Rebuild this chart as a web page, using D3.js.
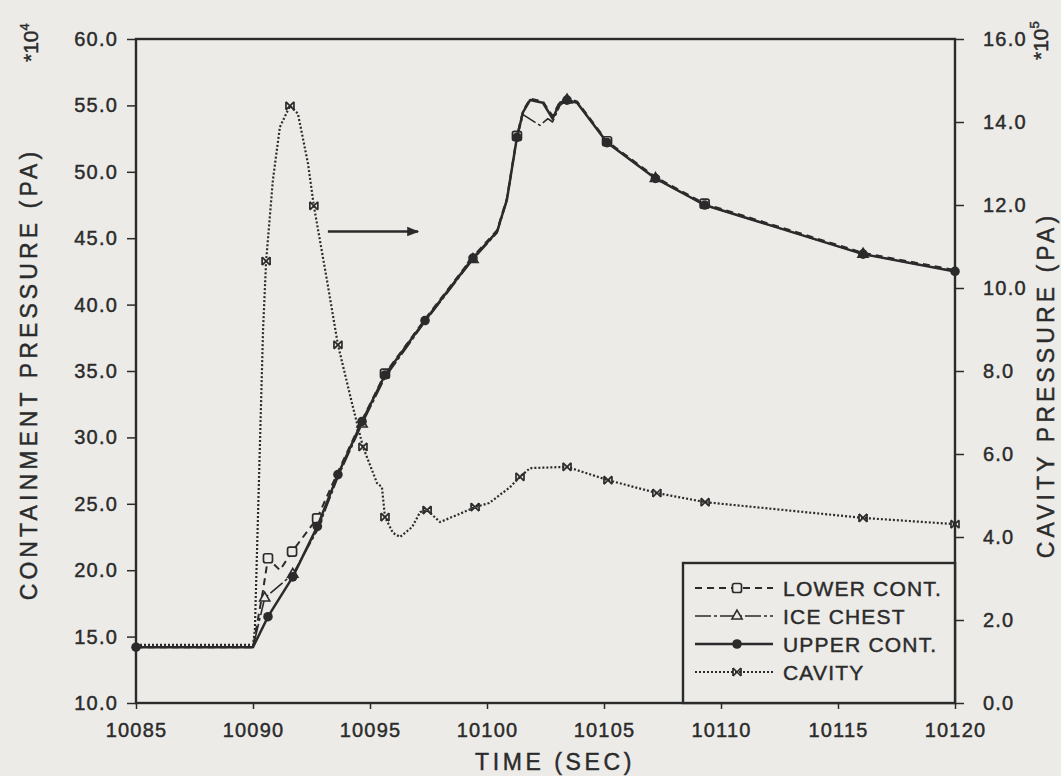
<!DOCTYPE html>
<html>
<head>
<meta charset="utf-8">
<script src="https://cdn.jsdelivr.net/npm/d3@7"></script>
<style>
  body { margin: 0; background: #ecebe8; }
  svg text { font-family: "Liberation Sans", Arial, sans-serif; fill: #2b2b2b; stroke: #2b2b2b; stroke-width: 0.45px; }
</style>
</head>
<body>
<script>
// time axis (sec)
const timeTicks = [10085, 10090, 10095, 10100, 10105, 10110, 10115, 10120]
const leftTicks = [10, 15, 20, 25, 30, 35, 40, 45, 50, 55, 60]
const rightTicks = [0, 2, 4, 6, 8, 10, 12, 14, 16]

// containment pressures, *10^4 Pa
const upperTime = [10085, 10090.0, 10090.64, 10091.7, 10092.75, 10093.63, 10094.66, 10095.64, 10097.35, 10099.4, 10100.43, 10100.85, 10101.28, 10101.54, 10101.84, 10102.39, 10102.8, 10103.12, 10103.42, 10103.85, 10105.13, 10107.2, 10109.3, 10116.07, 10120]
const upperVal = [14.2, 14.2, 16.5, 19.5, 23.3, 27.2, 31.2, 34.7, 38.8, 43.5, 45.5, 47.9, 52.6, 54.5, 55.4, 55.2, 54.0, 55.2, 55.4, 55.2, 52.2, 49.5, 47.5, 43.8, 42.5]
const upperMarks = [10085, 10090.64, 10091.7, 10092.75, 10093.63, 10094.66, 10095.64, 10097.35, 10099.4, 10101.28, 10103.42, 10105.13, 10107.2, 10109.3, 10116.07, 10120]

const iceTime = [10085, 10090.0, 10090.5, 10091.7, 10092.75, 10093.63, 10094.66, 10095.64, 10097.35, 10099.4, 10100.43, 10100.85, 10101.28, 10101.54, 10102.26, 10102.6, 10102.8, 10103.12, 10103.42, 10103.85, 10105.13, 10107.2, 10109.3, 10116.07, 10120]
const iceVal = [14.2, 14.2, 17.9, 19.7, 23.0, 27.0, 31.0, 34.5, 38.7, 43.4, 45.4, 47.8, 52.5, 54.3, 53.5, 54.0, 53.75, 55.0, 55.4, 55.2, 52.2, 49.5, 47.5, 43.8, 42.5]
const iceMarks = [10090.5, 10091.7, 10094.66, 10099.4, 10103.42, 10107.2, 10116.07]

const lowerTime = [10085, 10090.0, 10090.43, 10090.64, 10091.15, 10091.67, 10092.74, 10093.63, 10094.66, 10095.64, 10097.35, 10099.4, 10100.43, 10100.85, 10101.28, 10101.54, 10101.84, 10102.39, 10102.8, 10103.12, 10103.42, 10103.85, 10105.13, 10107.2, 10109.3, 10116.07, 10120]
const lowerVal = [14.2, 14.2, 18.5, 20.9, 20.0, 21.4, 23.9, 27.4, 31.3, 34.8, 38.9, 43.6, 45.6, 48.0, 52.7, 54.6, 55.5, 55.3, 54.2, 55.3, 55.5, 55.3, 52.3, 49.6, 47.6, 43.9, 42.6]
const lowerMarks = [10090.64, 10091.67, 10092.74, 10095.64, 10101.28, 10105.13, 10109.3]

// cavity pressure, *10^5 Pa
const cavityTime = [10085, 10090.0, 10090.08, 10090.43, 10090.56, 10090.85, 10091.15, 10091.58, 10091.92, 10092.35, 10092.6, 10093.16, 10093.63, 10094.27, 10094.7, 10095.3, 10095.51, 10095.64, 10095.98, 10096.28, 10096.8, 10097.14, 10097.44, 10097.99, 10098.72, 10099.49, 10100.1, 10100.98, 10101.41, 10101.84, 10103.42, 10105.17, 10107.26, 10109.32, 10116.07, 10120]
const cavityVal = [1.4, 1.4, 1.76, 8.99, 10.65, 12.6, 13.88, 14.39, 14.2, 13.0, 11.98, 10.19, 8.63, 7.13, 6.17, 5.3, 5.2, 4.48, 4.1, 4.0, 4.24, 4.6, 4.65, 4.36, 4.53, 4.72, 4.82, 5.2, 5.45, 5.66, 5.69, 5.37, 5.06, 4.84, 4.46, 4.31]
const cavityMarks = [10090.56, 10091.58, 10092.6, 10093.63, 10094.7, 10095.64, 10097.44, 10099.49, 10101.41, 10103.42, 10105.17, 10107.26, 10109.32, 10116.07, 10120]

const legendNames = ["LOWER CONT.", "ICE CHEST", "UPPER CONT.", "CAVITY"]

document.addEventListener("DOMContentLoaded", () => {
    const width = 1061
    const height = 776
    const ink = "#2b2b2b"
    const paper = "#ecebe8"
    const plot = { left: 136, right: 955, top: 39, bottom: 703 }

    const svg = d3.select("body")
        .append("svg")
        .attr("width", width)
        .attr("height", height)

    const x = d3.scaleLinear().domain([10085, 10120]).range([plot.left, plot.right])
    const yL = d3.scaleLinear().domain([10, 60]).range([plot.bottom, plot.top])
    const yR = d3.scaleLinear().domain([0, 16]).range([plot.bottom, plot.top])

    // axes
    const styleAxis = (g, size) => {
        g.select(".domain").remove()
        g.selectAll(".tick line").attr("stroke", ink).attr("stroke-width", 1.5)
        g.selectAll(".tick text")
            .attr("font-size", size)
            .attr("letter-spacing", "1.2px")
            .style("fill", ink)
    }

    svg.append("g")
        .attr("transform", `translate(0,${plot.bottom})`)
        .call(d3.axisBottom(x).tickValues(timeTicks).tickFormat(d3.format("d")).tickSize(6).tickPadding(14))
        .call((g) => styleAxis(g, 20))

    svg.append("g")
        .attr("transform", `translate(${plot.left},0)`)
        .call(d3.axisLeft(yL).tickValues(leftTicks).tickFormat(d3.format(".1f")).tickSize(9).tickPadding(9))
        .call((g) => styleAxis(g, 20))

    svg.append("g")
        .attr("transform", `translate(${plot.right},0)`)
        .call(d3.axisRight(yR).tickValues(rightTicks).tickFormat(d3.format(".1f")).tickSize(9).tickPadding(19))
        .call((g) => styleAxis(g, 20))

    // frame
    svg.append("rect")
        .attr("x", plot.left)
        .attr("y", plot.top)
        .attr("width", plot.right - plot.left)
        .attr("height", plot.bottom - plot.top)
        .attr("fill", "none")
        .attr("stroke", ink)
        .attr("stroke-width", 2.4)

    // axis titles
    svg.append("text")
        .attr("x", 555)
        .attr("y", 770)
        .attr("text-anchor", "middle")
        .attr("font-size", 23)
        .attr("letter-spacing", "3.6px")
        .text("TIME (SEC)")

    svg.append("text")
        .attr("transform", `translate(37,${(plot.top + plot.bottom) / 2 + 3}) rotate(-90)`)
        .attr("text-anchor", "middle")
        .attr("font-size", 23)
        .attr("letter-spacing", "4.1px")
        .text("CONTAINMENT PRESSURE (PA)")

    svg.append("text")
        .attr("transform", `translate(1054,${(plot.top + plot.bottom) / 2 + 14}) rotate(-90)`)
        .attr("text-anchor", "middle")
        .attr("font-size", 23)
        .attr("letter-spacing", "4.1px")
        .text("CAVITY PRESSURE (PA)")

    // scale factors
    const factor = (px, py, exp) => {
        const t = svg.append("text")
            .attr("transform", `translate(${px},${py}) rotate(-90)`)
            .attr("font-size", 21)
        t.append("tspan").text("*10")
        t.append("tspan").attr("font-size", 13).attr("dy", -9).text(exp)
    }
    factor(38, 62, "4")
    factor(1048, 60, "5")

    // series
    const series = [
        { name: "LOWER CONT.", time: lowerTime, val: lowerVal, marks: lowerMarks, y: yL, dash: "7,5", width: 2, symbol: "square" },
        { name: "ICE CHEST", time: iceTime, val: iceVal, marks: iceMarks, y: yL, dash: "16,3,3,3", width: 1.6, symbol: "triangle" },
        { name: "UPPER CONT.", time: upperTime, val: upperVal, marks: upperMarks, y: yL, dash: null, width: 2.5, symbol: "circle" },
        { name: "CAVITY", time: cavityTime, val: cavityVal, marks: cavityMarks, y: yR, dash: "2,2", width: 2.2, symbol: "times" }
    ]

    const drawSymbol = (g, kind, cx, cy) => {
        if (kind === "circle") {
            g.append("circle").attr("cx", cx).attr("cy", cy).attr("r", 4.8).attr("fill", ink)
        } else if (kind === "square") {
            g.append("rect").attr("x", cx - 4.5).attr("y", cy - 4.5).attr("width", 9).attr("height", 9).attr("rx", 2)
                .attr("fill", paper).attr("stroke", ink).attr("stroke-width", 1.7)
        } else if (kind === "triangle") {
            g.append("path").attr("transform", `translate(${cx},${cy})`)
                .attr("d", d3.symbol(d3.symbolTriangle, 45)())
                .attr("fill", paper).attr("stroke", ink).attr("stroke-width", 1.6)
        } else {
            g.append("path").attr("transform", `translate(${cx},${cy})`)
                .attr("d", "M-4,-4L4,4M-4,4L4,-4M-4,-4V4M4,-4V4")
                .attr("fill", "none").attr("stroke", ink).attr("stroke-width", 1.7)
        }
    }

    const line = d3.line().x((d) => x(d[0])).y((d) => d[1])

    series.forEach((s) => {
        const pts = s.time.map((t, i) => [t, s.y(s.val[i])])
        svg.append("path")
            .datum(pts)
            .attr("d", line)
            .attr("fill", "none")
            .attr("stroke", ink)
            .attr("stroke-width", s.width)
            .attr("stroke-dasharray", s.dash)
            .attr("stroke-linejoin", "round")
        const mg = svg.append("g")
        pts.filter((p) => s.marks.includes(p[0]))
            .forEach((p) => drawSymbol(mg, s.symbol, x(p[0]), p[1]))
    })

    // arrow pointing to the cavity (right) axis
    svg.append("defs").append("marker")
        .attr("id", "head")
        .attr("viewBox", "0 0 10 10")
        .attr("refX", 9).attr("refY", 5)
        .attr("markerWidth", 5).attr("markerHeight", 5)
        .attr("orient", "auto")
        .append("path").attr("d", "M0,1L10,5L0,9Z").attr("fill", ink)
    svg.append("line")
        .attr("x1", x(10093.2)).attr("x2", x(10097.05))
        .attr("y1", yL(45.5)).attr("y2", yL(45.5))
        .attr("stroke", ink).attr("stroke-width", 2.4)
        .attr("marker-end", "url(#head)")

    // legend
    const lg = svg.append("g").attr("id", "legend")
    lg.append("rect")
        .attr("x", 683).attr("y", 563)
        .attr("width", plot.right - 683).attr("height", plot.bottom - 563)
        .attr("fill", paper).attr("stroke", ink).attr("stroke-width", 2.4)
    const rowY = d3.scalePoint().domain(legendNames).range([588, 672])
    series.forEach((s) => {
        const yy = rowY(s.name)
        lg.append("line")
            .attr("x1", 695).attr("x2", 773)
            .attr("y1", yy).attr("y2", yy)
            .attr("stroke", ink).attr("stroke-width", s.width)
            .attr("stroke-dasharray", s.dash)
        drawSymbol(lg, s.symbol, 737, yy)
        lg.append("text")
            .attr("x", 783).attr("y", yy)
            .attr("dy", "0.36em")
            .attr("font-size", 21)
            .attr("letter-spacing", "1.2px")
            .text(s.name)
    })
})
</script>
</body>
</html>
